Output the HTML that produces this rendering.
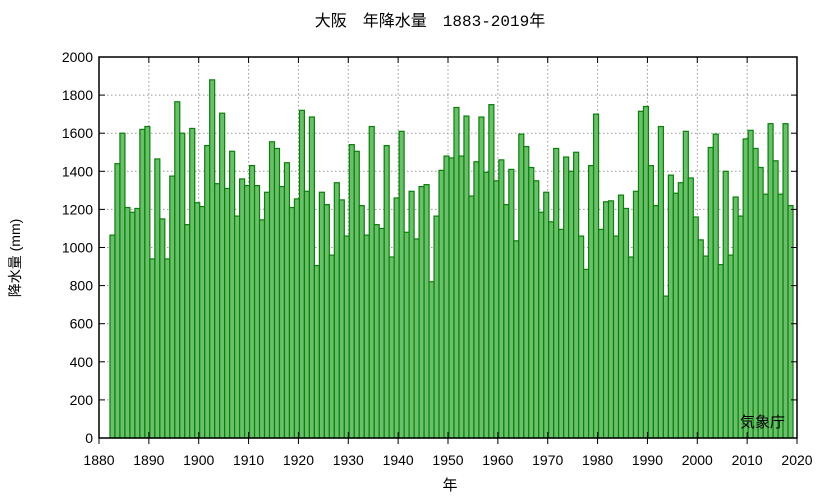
<!DOCTYPE html>
<html><head><meta charset="utf-8"><style>
body{margin:0;background:#fff}
text{font-family:"Liberation Sans","Noto Sans CJK JP",sans-serif;fill:#000}
</style></head><body>
<svg id="s" width="833" height="498" xmlns="http://www.w3.org/2000/svg">
<rect width="833" height="498" fill="#fff"/>
<g id="grid"></g>
<g id="bars"></g>
<rect x="99" y="57" width="698" height="381" fill="none" stroke="#000" stroke-width="1.5"/>
<g id="ticks"></g>
<text x="430" y="26" font-size="16" text-anchor="middle" style='font-family:"Liberation Mono","Noto Sans CJK JP",monospace'>大阪　年降水量　1883-2019年</text>
<text x="450" y="490" font-size="15" text-anchor="middle">年</text>
<text transform="translate(20,258) rotate(-90)" font-size="14" text-anchor="middle">降水量 (mm)</text>
<text x="785" y="427" font-size="15" text-anchor="end">気象庁</text>
</svg>
<script>
var v=[1065,1440,1600,1210,1185,1205,1620,1635,940,1465,1150,940,1375,1765,1600,1120,1625,1235,1215,1535,1880,1335,1705,1310,1505,1165,1360,1325,1430,1325,1145,1290,1555,1520,1320,1445,1210,1255,1720,1295,1685,905,1290,1225,960,1340,1250,1060,1540,1505,1220,1065,1635,1120,1100,1535,950,1260,1610,1080,1295,1045,1320,1330,820,1165,1405,1480,1470,1735,1480,1690,1270,1450,1685,1395,1750,1350,1460,1225,1410,1035,1595,1530,1420,1350,1185,1290,1135,1520,1095,1475,1400,1500,1060,885,1430,1700,1095,1240,1245,1060,1275,1205,950,1295,1715,1740,1430,1220,1635,745,1380,1285,1340,1610,1365,1160,1040,955,1525,1595,910,1400,960,1265,1165,1570,1615,1520,1420,1280,1650,1455,1280,1650,1220];
var NS="http://www.w3.org/2000/svg";
function el(p,t,a,txt){var e=document.createElementNS(NS,t);for(var k in a)e.setAttribute(k,a[k]);if(txt)e.textContent=txt;document.getElementById(p).appendChild(e);}
var X=function(y){return 99+(y-1880)*698/140},Y=function(m){return 438-m*381/2000};
for(var i=0;i<=10;i++){var y=Y(i*200);
 if(i>0&&i<10)el("grid","line",{x1:99,x2:797,y1:y,y2:y,stroke:"#999","stroke-dasharray":"1.5,2.5"});
 el("ticks","line",{x1:99,x2:105,y1:y,y2:y,stroke:"#000"});
 el("ticks","line",{x1:791,x2:797,y1:y,y2:y,stroke:"#000"});
 el("ticks","text",{x:93,y:y+5,"font-size":"14","text-anchor":"end"},String(i*200));}
for(var yr=1880;yr<=2020;yr+=10){var x=X(yr);
 if(yr>1880&&yr<2020)el("grid","line",{x1:x,x2:x,y1:57,y2:438,stroke:"#999","stroke-dasharray":"1.5,2.5"});
 el("ticks","line",{x1:x,x2:x,y1:432,y2:444,stroke:"#000"});
 el("ticks","line",{x1:x,x2:x,y1:57,y2:63,stroke:"#000"});
 el("ticks","text",{x:x,y:465,"font-size":"14","text-anchor":"middle"},String(yr));}
var w=698/140;
v.forEach(function(m,i){var yr=1883+i;var x=X(yr)-0.8*w;var y=Y(m);
 el("bars","rect",{x:x.toFixed(2),y:y.toFixed(2),width:w.toFixed(2),height:(438-y).toFixed(2),fill:"#6abf6a",stroke:"#0a7f0a","stroke-width":"1.2"});});
</script>
</body></html>
